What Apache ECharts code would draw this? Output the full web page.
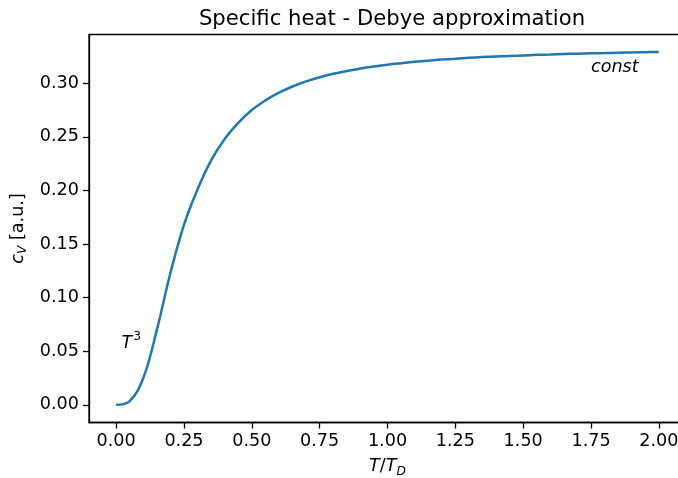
<!DOCTYPE html>
<html>
<head>
<meta charset="utf-8">
<script src="https://cdn.jsdelivr.net/npm/echarts@6/dist/echarts.min.js"></script>
<style>html,body{margin:0;padding:0;background:#fff;}#chart{width:678px;height:478px;}</style>
</head>
<body>
<div id="chart"></div>
<script>
// Data
var tValues = [0, 0.05, 0.1, 0.15, 0.2, 0.25, 0.3, 0.35, 0.4, 0.45, 0.5, 0.55, 0.6, 0.65, 0.7, 0.75, 0.8, 0.85, 0.9, 0.95, 1.0,
               1.05, 1.1, 1.15, 1.2, 1.25, 1.3, 1.35, 1.4, 1.45, 1.5, 1.55, 1.6, 1.65, 1.7, 1.75, 1.8, 1.85, 1.9, 1.95, 2.0];
var cvValues = [0, 0.0035, 0.025, 0.070, 0.123, 0.168, 0.201, 0.228, 0.248, 0.263, 0.275, 0.284, 0.2912, 0.297, 0.3018, 0.3056, 0.3088, 0.3115, 0.3137, 0.3156, 0.3173,
                0.3187, 0.3200, 0.3211, 0.3221, 0.3229, 0.3237, 0.3244, 0.3250, 0.3255, 0.3260, 0.3265, 0.3269, 0.3273, 0.3276, 0.3280, 0.3282, 0.3285, 0.3288, 0.3290, 0.3292];
var xTicks = [0, 0.25, 0.5, 0.75, 1.0, 1.25, 1.5, 1.75, 2.0];
var yTicks = [0, 0.05, 0.10, 0.15, 0.20, 0.25, 0.30];
var annotations = [
  {name: 'T3', x: 0.02, y: 0.05},
  {name: 'const', x: 1.75, y: 0.31}
];

var FONT = 'DejaVu Sans';
var FS = 17.6;
var chart = echarts.init(document.getElementById('chart'), null, {renderer: 'canvas'});
var lineData = tValues.map(function (t, i) { return [t, cvValues[i]]; });

var option = {
  backgroundColor: '#ffffff',
  animation: false,
  title: {
    text: 'Specific heat - Debye approximation',
    left: 387,
    textAlign: 'center',
    top: 4,
    textStyle: {fontFamily: FONT, fontSize: 21.2, fontWeight: 'normal', color: '#000'}
  },
  grid: {
    left: 89, top: 34.5, width: 597, height: 388,
    outerBoundsMode: 'none',
    containLabel: false,
    show: true, borderColor: '#000', borderWidth: 1.3, backgroundColor: 'transparent'
  },
  xAxis: {
    type: 'value', min: -0.1, max: 2.1,
    splitLine: {show: false},
    axisLine: {show: true, onZero: false, lineStyle: {color: '#000', width: 1.3}},
    axisTick: {show: true, length: 6, lineStyle: {color: '#000', width: 1.3}, customValues: xTicks},
    axisLabel: {
      color: '#000', fontFamily: FONT, fontSize: FS, margin: 10,
      customValues: xTicks,
      formatter: function (v) { return v.toFixed(2); }
    },
    name: '{i|T}{n|/}{i|T}{s|D}',
    nameLocation: 'middle',
    nameGap: 33,
    nameTextStyle: {
      fontFamily: FONT, fontSize: FS, color: '#000',
      rich: {
        i: {fontFamily: FONT, fontSize: FS, fontStyle: 'italic', color: '#000'},
        n: {fontFamily: FONT, fontSize: FS, color: '#000'},
        s: {fontFamily: FONT, fontSize: 12.3, fontStyle: 'italic', color: '#000', padding: [10, 0, 0, 0]}
      }
    }
  },
  yAxis: {
    type: 'value', min: -0.01645, max: 0.3455,
    splitLine: {show: false},
    axisLine: {show: true, onZero: false, lineStyle: {color: '#000', width: 1.3}},
    axisTick: {show: true, length: 6, lineStyle: {color: '#000', width: 1.3}, customValues: yTicks},
    axisLabel: {
      color: '#000', fontFamily: FONT, fontSize: FS, margin: 10,
      customValues: yTicks,
      formatter: function (v) { return v.toFixed(2); }
    },
    name: '{i|c}{s|V}{n| [a.u.]}',
    nameLocation: 'middle',
    nameRotate: 90,
    nameGap: 57,
    nameTextStyle: {
      fontFamily: FONT, fontSize: FS, color: '#000',
      rich: {
        i: {fontFamily: FONT, fontSize: FS, fontStyle: 'italic', color: '#000'},
        n: {fontFamily: FONT, fontSize: FS, color: '#000'},
        s: {fontFamily: FONT, fontSize: 12.3, fontStyle: 'italic', color: '#000', padding: [10, 0, 0, 0]}
      }
    }
  },
  series: [
    {
      type: 'line',
      data: lineData,
      showSymbol: false,
      smooth: 0.4,
      lineStyle: {color: '#1f77b4', width: 2.5},
      clip: false
    },
    {
      type: 'scatter',
      symbolSize: 0,
      silent: true,
      itemStyle: {opacity: 1},
      data: annotations.map(function (a) { return {name: a.name, value: [a.x, a.y]}; }),
      label: {
        show: true,
        opacity: 1,
        position: [0, 4],
        align: 'left',
        verticalAlign: 'bottom',
        fontFamily: FONT,
        fontSize: FS,
        color: '#000',
        formatter: function (p) {
          return p.name === 'T3' ? '{i|T}{sup|3}' : '{i|const}';
        },
        rich: {
          i: {fontFamily: FONT, fontSize: FS, fontStyle: 'italic', color: '#000'},
          sup: {fontFamily: FONT, fontSize: 12.3, color: '#000', padding: [0, 0, 12, 1]}
        }
      }
    }
  ]
};
chart.setOption(option);
</script>
</body>
</html>
